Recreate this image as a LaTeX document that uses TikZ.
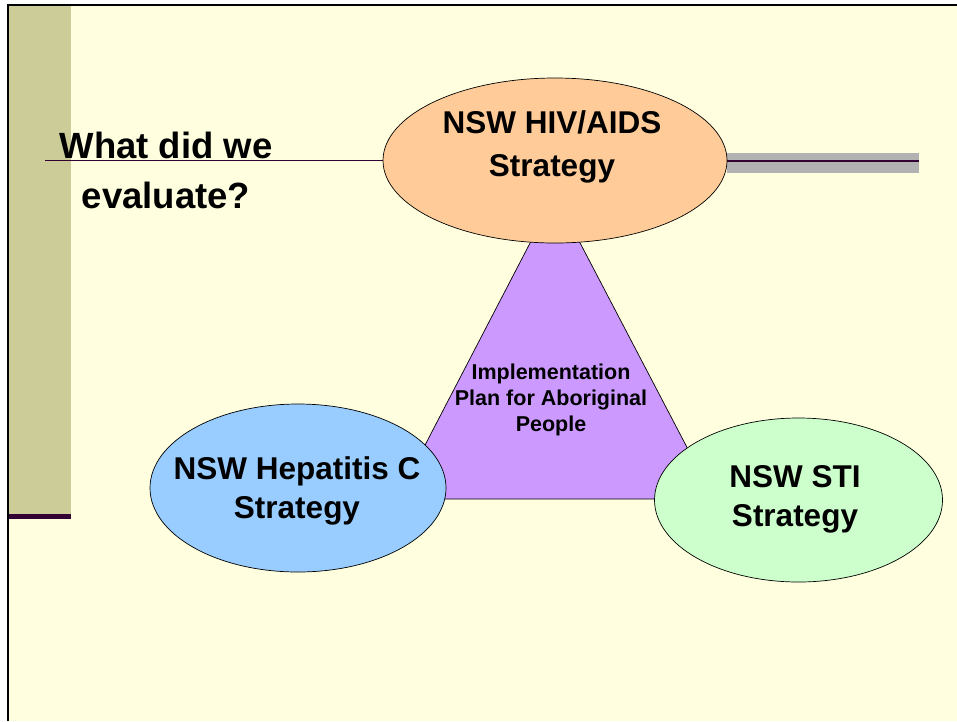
\documentclass[tikz,border=0pt]{standalone}
\usepackage{fontspec}
\setmainfont{Liberation Sans}
\usetikzlibrary{shapes.geometric}

\definecolor{slidebg}{HTML}{FFFFE0}
\definecolor{sidebar}{HTML}{CCCC99}
\definecolor{plum}{HTML}{330033}
\definecolor{bargray}{HTML}{B2B2B2}
\definecolor{hivfill}{HTML}{FFCC99}
\definecolor{hepfill}{HTML}{99CCFF}
\definecolor{stifill}{HTML}{CCFFCC}
\definecolor{planfill}{HTML}{CC99FF}

\tikzset{
	strategy/.style={draw, ellipse, line width=0.7pt, inner sep=0pt},
	bigtext/.style={font=\bfseries\fontsize{31.5}{39}\selectfont, align=center},
}

\begin{document}
\begin{tikzpicture}[x=1pt,y=-1pt]
			\useasboundingbox (0,0) rectangle (957,721);
			\fill[white] (0,0) rectangle (957,721);
			\fill[slidebg] (8,5) rectangle (957,721);
			\fill[sidebar] (8,5) rectangle (71,514);
			\fill[plum] (8,514) rectangle (71,519);
			\draw[line width=2pt] (8,721) -- (8,5) -- (957,5);
			\fill[bargray] (727,153) rectangle (919,173);
			\draw[plum, line width=1.5pt] (727,161) -- (919,161);
			\draw[plum, line width=1.2pt] (45,160.5) -- (554,160.5);
			\node[font=\bfseries\fontsize{36.5}{50}\selectfont, align=center] (title) at (166,170) {What did we\\evaluate?};
			% the plan sits between the three strategies
			\coordinate (apex)  at (555,195);
			\coordinate (baseL) at (397,499);
			\coordinate (baseR) at (714,499);
			\draw[fill=planfill, line width=0.7pt] (apex) -- (baseL) -- (baseR) -- cycle;
			\node[font=\bfseries\fontsize{21.5}{26}\selectfont, align=center] (plan) at (551,399.5) {Implementation\\Plan for Aboriginal\\People};
			\node[strategy, fill=hivfill, minimum width=344pt, minimum height=165pt] (hiv) at (555,160.5) {};
			\node[strategy, fill=hepfill, minimum width=296pt, minimum height=168pt] (hep) at (298,488) {};
			\node[strategy, fill=stifill, minimum width=288pt, minimum height=164pt] (sti) at (798.5,500) {};
			\node[bigtext] (hivtext) at (552,147) {NSW HIV/AIDS\\[4pt]Strategy};
			\node[bigtext] (heptext) at (297,490.5) {NSW Hepatitis C\\Strategy};
			\node[bigtext] (stitext) at (795,499.5) {NSW STI\\Strategy};
		\end{tikzpicture}
\end{document}
